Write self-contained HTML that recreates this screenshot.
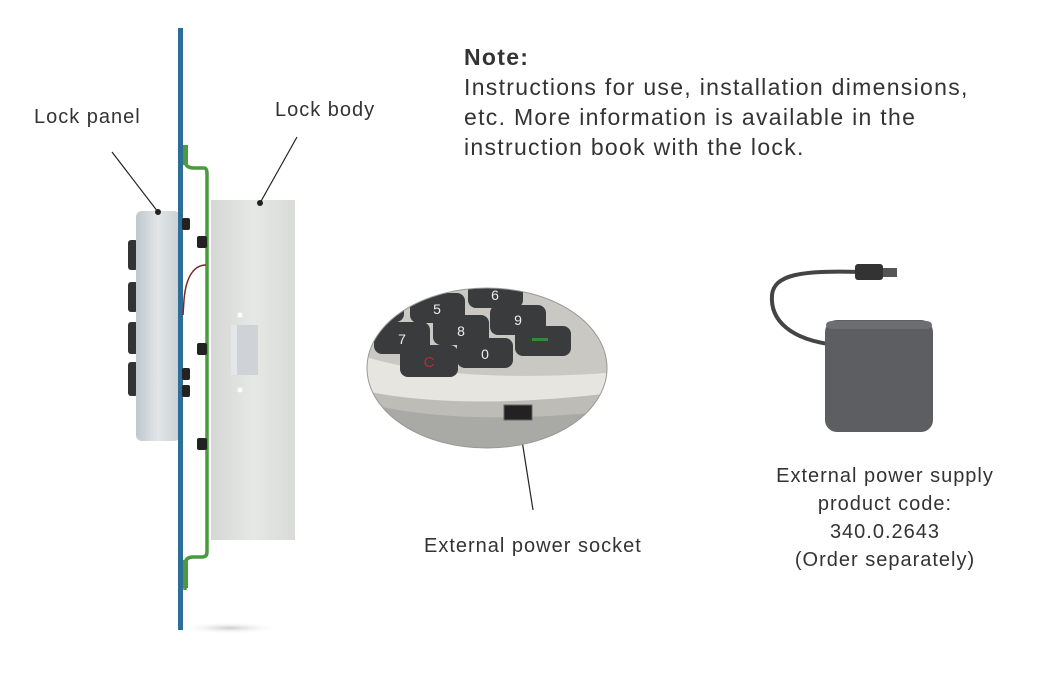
<!DOCTYPE html>
<html><head><meta charset="utf-8"><style>
body{margin:0;background:#fff;width:1040px;height:683px;overflow:hidden;position:relative;font-family:"Liberation Sans",sans-serif;color:#333}
.t{position:absolute;white-space:nowrap;font-size:20px;letter-spacing:1px}
</style></head><body>
<svg width="1040" height="683" style="position:absolute;left:0;top:0">
<defs>
<radialGradient id="sh" cx="0.5" cy="0.5" r="0.5"><stop offset="0" stop-color="#ccc"/><stop offset="1" stop-color="#fff" stop-opacity="0"/></radialGradient>
<linearGradient id="bd" x1="0" x2="1"><stop offset="0" stop-color="#d4d7d3"/><stop offset="0.5" stop-color="#e6e8e5"/><stop offset="1" stop-color="#d9dbd8"/></linearGradient>
<linearGradient id="pn" x1="0" x2="1"><stop offset="0" stop-color="#bfc7cd"/><stop offset="0.5" stop-color="#e2e6e8"/><stop offset="1" stop-color="#c9cfd3"/></linearGradient>
<clipPath id="cc"><ellipse cx="487" cy="368" rx="120" ry="80"/></clipPath>
</defs>
<ellipse cx="230" cy="628" rx="50" ry="6" fill="url(#sh)"/>
<rect x="128" y="240" width="10" height="30" rx="3" fill="#333"/>
<rect x="128" y="282" width="10" height="30" rx="3" fill="#333"/>
<rect x="128" y="322" width="10" height="32" rx="3" fill="#333"/>
<rect x="128" y="362" width="10" height="34" rx="3" fill="#333"/>
<rect x="136" y="211" width="44" height="230" rx="6" fill="url(#pn)"/>
<!-- lock body -->
<rect x="211" y="200" width="84" height="340" fill="url(#bd)"/>
<rect x="231" y="325" width="27" height="50" fill="#cfd3d7"/>
<rect x="231" y="325" width="6" height="50" fill="#e4e7ea"/>
<circle cx="240" cy="315" r="2.5" fill="#fff"/><circle cx="240" cy="390" r="2.5" fill="#fff"/>
<!-- green bracket -->
<path d="M185 145 V160 Q185 168 194 168 H204 Q207 168 207 174 V552 Q207 557 202 557 H193 Q185 557 185 565 V590" stroke="#4a9a3e" stroke-width="3.5" fill="none"/>
<rect x="183" y="145" width="5" height="20" fill="#4a9a3e"/>
<rect x="183" y="560" width="5" height="28" fill="#4a9a3e"/>
<rect x="178" y="28" width="5" height="602" fill="#2d6e99"/>
<path d="M206 265 C195 265 186 275 184 300 L183 315" stroke="#7a2a20" stroke-width="1.5" fill="none"/>
<g fill="#222"><rect x="182" y="218" width="8" height="12" rx="2"/><rect x="197" y="236" width="10" height="12" rx="2"/><rect x="197" y="343" width="10" height="12" rx="2"/><rect x="182" y="368" width="8" height="12" rx="2"/><rect x="182" y="385" width="8" height="12" rx="2"/><rect x="197" y="438" width="10" height="12" rx="2"/></g>
<g stroke="#222" stroke-width="1.2"><line x1="112" y1="152" x2="158" y2="212"/><line x1="297" y1="137" x2="260" y2="203"/><line x1="518" y1="415" x2="533" y2="510"/></g>
<circle cx="158" cy="212" r="3" fill="#222"/><circle cx="260" cy="203" r="3" fill="#222"/>
<!-- keypad circle -->
<g clip-path="url(#cc)">
<rect x="360" y="280" width="260" height="180" fill="#c9c8c2"/>
<path d="M360 355 Q450 385 620 372 L620 460 L360 460 Z" fill="#e6e5df"/>
<path d="M360 390 Q460 412 620 392 L620 460 L360 460 Z" fill="#bdbcb6"/>
<path d="M360 402 Q460 428 620 410 L620 460 L360 460 Z" fill="#a9a9a5"/>
<g fill="#3a3b3d">
<rect x="410" y="293" width="55" height="30" rx="8"/><rect x="468" y="280" width="55" height="28" rx="8"/>
<rect x="433" y="315" width="56" height="30" rx="8"/><rect x="490" y="305" width="56" height="30" rx="8"/>
<rect x="374" y="322" width="56" height="32" rx="8"/><rect x="457" y="338" width="56" height="30" rx="8"/>
<rect x="515" y="326" width="56" height="30" rx="8"/><rect x="400" y="345" width="58" height="32" rx="8"/>
<rect x="362" y="296" width="42" height="26" rx="8"/>
</g>
<g fill="#eee" font-size="14" text-anchor="middle"><text x="437" y="314">5</text><text x="495" y="300">6</text><text x="461" y="336">8</text><text x="518" y="325">9</text><text x="402" y="344">7</text><text x="485" y="359">0</text></g>
<text x="429" y="367" fill="#a33" font-size="15" text-anchor="middle">C</text>
<rect x="532" y="338" width="16" height="3" fill="#2f8a3c"/>
<rect x="504" y="405" width="28" height="15" fill="#222" stroke="#666"/>
</g>
<ellipse cx="487" cy="368" rx="120" ry="80" fill="none" stroke="#999"/>
<!-- power supply -->
<path d="M836 345 C790 340 770 320 772 295 C774 275 800 270 860 272" stroke="#444" stroke-width="4" fill="none"/>
<rect x="855" y="264" width="28" height="16" rx="3" fill="#333"/>
<rect x="883" y="268" width="14" height="9" fill="#555"/>
<rect x="825" y="320" width="108" height="112" rx="12" fill="#5d5e61"/>
<rect x="826" y="321" width="106" height="8" rx="6" fill="#6d6e71"/>
</svg>
<div class="t" style="left:34px;top:106px">Lock panel</div>
<div class="t" style="left:275px;top:99px">Lock body</div>
<div class="t" style="left:464px;top:42px;font-size:23px;letter-spacing:1.3px;line-height:30px"><b>Note:</b><br>Instructions for use, installation dimensions,<br>etc. More information is available in the<br>instruction book with the lock.</div>
<div class="t" style="left:424px;top:535px">External power socket</div>
<div class="t" style="left:760px;top:462px;width:250px;text-align:center;line-height:28px">External power supply<br>product code:<br>340.0.2643<br>(Order separately)</div>
</body></html>
